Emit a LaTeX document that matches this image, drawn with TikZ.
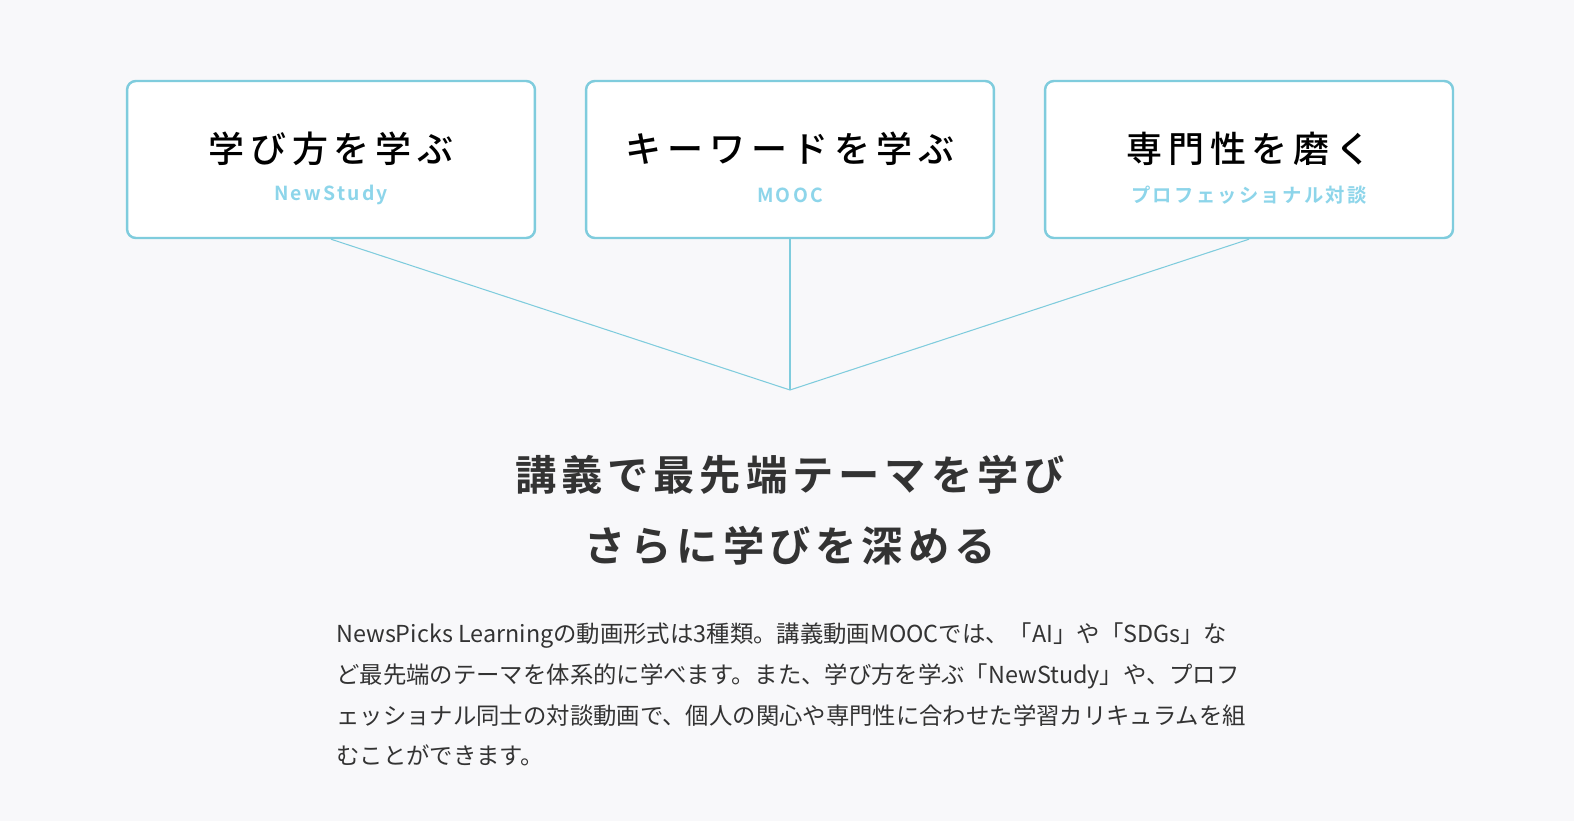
\documentclass[tikz,border=0pt]{standalone}
\usepackage{fontspec}
\setmainfont{Noto Sans CJK JP}
\newfontfamily\boxfont[LetterSpace=16]{Noto Sans CJK JP Medium}
\newfontfamily\subfont[LetterSpace=12]{Noto Sans CJK JP Bold}
\newfontfamily\headfont[LetterSpace=12]{Noto Sans CJK JP Bold}
\definecolor{bg}{HTML}{F8F8FA}
\definecolor{sky}{HTML}{7FCCDD}
\definecolor{subsky}{HTML}{8DD5EA}
\definecolor{ink}{HTML}{333333}
\begin{document}
\begin{tikzpicture}[x=0.02cm,y=-0.02cm]
        % Styles
        \tikzset{topic box/.style={draw=sky,line width=1.4pt,rounded corners=5pt,fill=white,
            minimum width=8.16cm,minimum height=3.14cm}}
        \tikzset{topic title/.style={font=\boxfont\fontsize{20.5}{20.5}\selectfont,text=black}}
        \tikzset{topic sub/.style={font=\subfont\fontsize{11}{11}\selectfont,text=subsky}}
        \tikzset{link/.style={draw=sky,line width=0.6pt}}
        %background
        \useasboundingbox (0,0) rectangle (1574,821);
        \fill[bg] (0,0) rectangle (1574,821);
        %boxes
        \foreach \n/\cx/\ttl/\sub in {learn/331/学び方を学ぶ/NewStudy,mooc/790/キーワードを学ぶ/MOOC,pro/1249/専門性を磨く/プロフェッショナル対談}{
            \node[topic box] (\n) at (\cx,159.5) {};
            \node[topic title] (\n title) at (\cx,149) {\ttl};
            \node[topic sub] (\n sub) at (\cx,195) {\sub};
        }
        %lines
        \coordinate (meet) at (790,390);
        \draw[link] (learn.south) -- (meet);
        \draw[link] (mooc.south) -- (meet);
        \draw[link] (pro.south) -- (meet);
        %heading
        \node[font=\headfont\fontsize{23.5}{23.5}\selectfont,text=ink] (head1) at (790,475) {講義で最先端テーマを学び};
        \node[font=\headfont\fontsize{23.5}{23.5}\selectfont,text=ink] (head2) at (790,546) {さらに学びを深める};
        %text
        \node[anchor=north west,align=left,text=ink,inner sep=0pt,
            font=\fontsize{13.3}{23.3}\selectfont] (body) at (336,622)
            {NewsPicks Learningの動画形式は3種類。講義動画MOOCでは、「AI」や「SDGs」な\\
             ど最先端のテーマを体系的に学べます。また、学び方を学ぶ「NewStudy」や、プロフ\\
             ェッショナル同士の対談動画で、個人の関心や専門性に合わせた学習カリキュラムを組\\
             むことができます。};
\end{tikzpicture}
\end{document}
